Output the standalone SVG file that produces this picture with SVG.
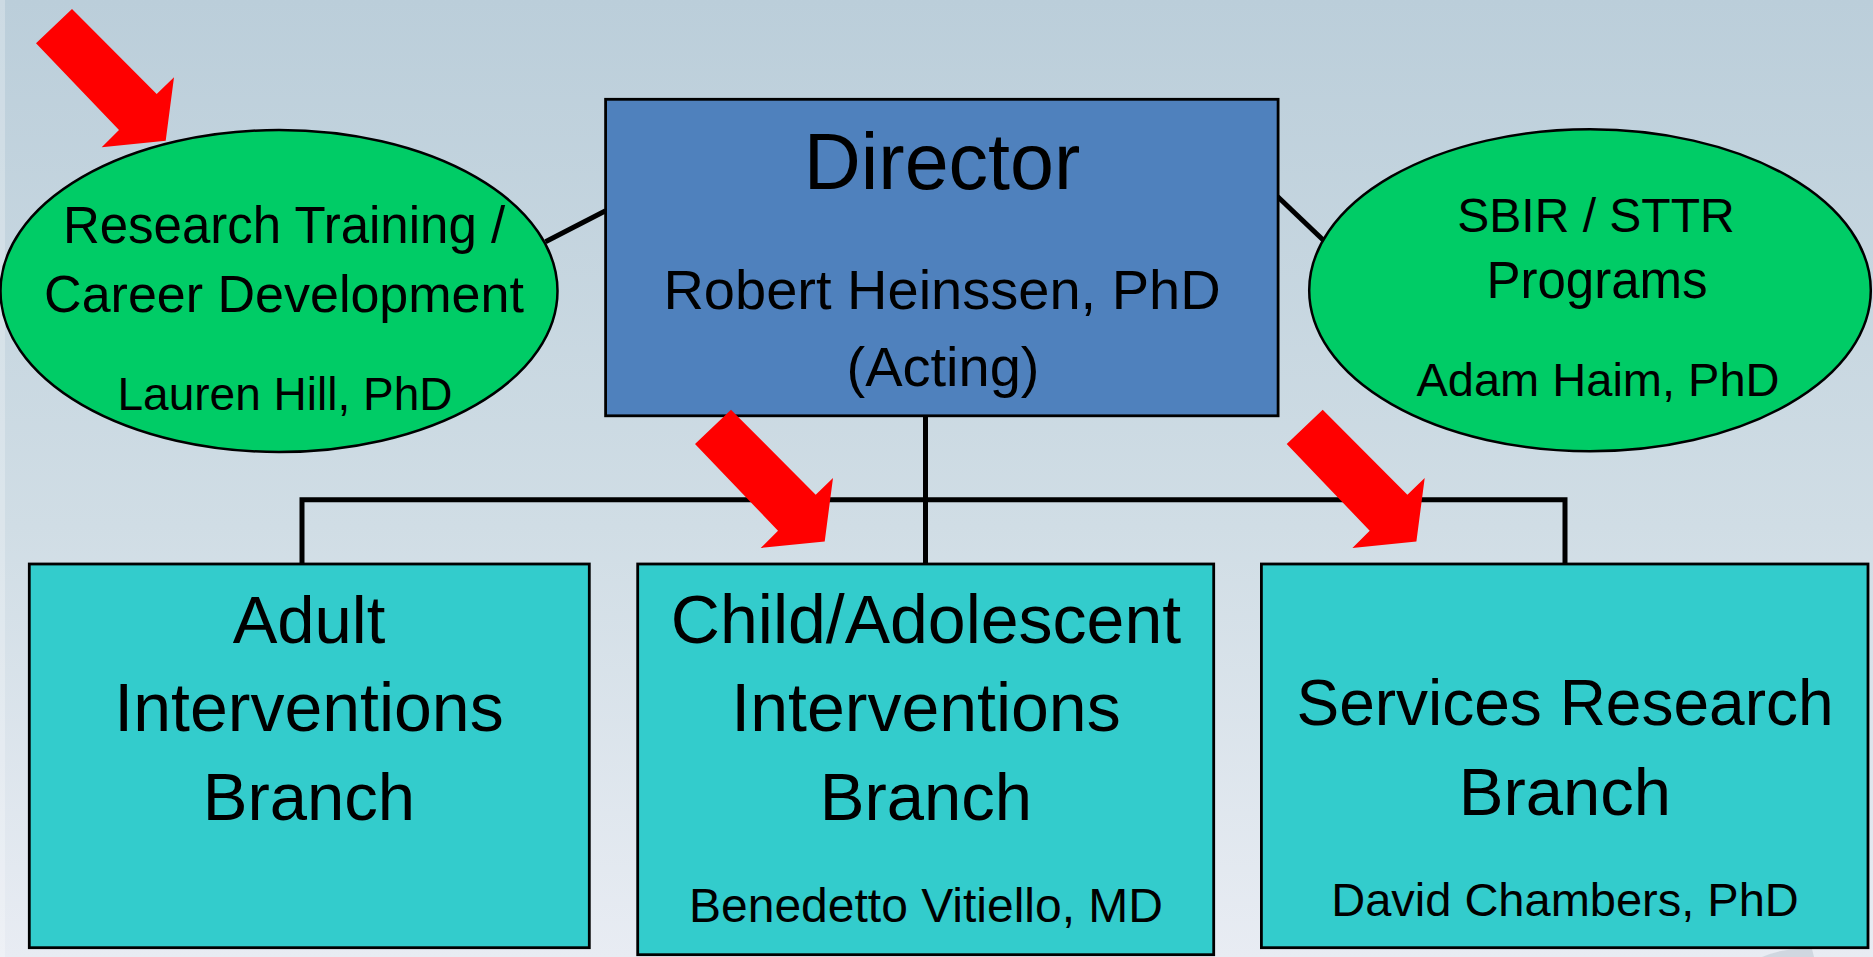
<svg xmlns="http://www.w3.org/2000/svg" xmlns:xlink="http://www.w3.org/1999/xlink" width="1873" height="957" viewBox="0 0 1873 957">
  <defs>
    <linearGradient id="bg" x1="0" y1="0" x2="0" y2="1">
      <stop offset="0" stop-color="#BBCEDA"/>
      <stop offset="0.55" stop-color="#D0DDE5"/>
      <stop offset="1" stop-color="#E8ECF3"/>
    </linearGradient>
    <path id="redArrow" d="M0,0 L36,-34.3 L120.7,50.7 L138,34 L129.7,97.4 L65.7,104 L83,86.7 Z"/>
  </defs>
  <style>
    .txt { font-family: "Liberation Sans", Arial, sans-serif; fill: #000; text-anchor: middle; }
    .box { stroke: #000; stroke-width: 2.8; }
    .director { fill: #4F81BD; }
    .branch { fill: #33CCCC; }
    .oval { fill: #00CC66; stroke: #000; stroke-width: 2.5; }
    .conn { stroke: #000; stroke-width: 5; fill: none; stroke-linecap: butt; }
    .arrow { fill: #FF0000; }
  </style>

  <rect x="0" y="0" width="1873" height="957" fill="url(#bg)"/>
  <rect x="0" y="0" width="5" height="957" fill="#FFFFFF" opacity="0.25"/>
  <path d="M1762,957 Q1785,947 1812,949 L1814,957 Z" fill="#C9D2DB" opacity="0.8"/>

  <g id="connectors">
    <line class="conn" x1="545.5" y1="241.7" x2="605.6" y2="210.7"/>
    <line class="conn" x1="1277.5" y1="196.5" x2="1325" y2="241.7"/>
    <line class="conn" x1="925.5" y1="416" x2="925.5" y2="564"/>
    <polyline class="conn" points="302,564 302,499.8 1565,499.8 1565,564"/>
  </g>

  <g id="node-research-training">
    <ellipse class="oval" cx="279" cy="291" rx="278.5" ry="161"/>
    <text class="txt" x="284" y="242.5" font-size="51">Research Training /</text>
    <text class="txt" x="284" y="312" font-size="52">Career Development</text>
    <text class="txt" x="285" y="410" font-size="46">Lauren Hill, PhD</text>
  </g>

  <g id="node-director">
    <rect class="box director" x="605.6" y="99.3" width="672.5" height="316.5"/>
    <text class="txt" x="942" y="189" font-size="79">Director</text>
    <text class="txt" x="942" y="309" font-size="56">Robert Heinssen, PhD</text>
    <text class="txt" x="943" y="386" font-size="56">(Acting)</text>
  </g>

  <g id="node-sbir">
    <ellipse class="oval" cx="1590" cy="290.3" rx="280.8" ry="161"/>
    <text class="txt" x="1596" y="232" font-size="48">SBIR / STTR</text>
    <text class="txt" x="1597" y="298" font-size="51">Programs</text>
    <text class="txt" x="1598" y="396" font-size="47">Adam Haim, PhD</text>
  </g>

  <g id="node-adult">
    <rect class="box branch" x="29.3" y="564" width="560" height="383.7"/>
    <text class="txt" x="309" y="643" font-size="67">Adult</text>
    <text class="txt" x="309" y="731" font-size="68">Interventions</text>
    <text class="txt" x="309" y="820" font-size="67">Branch</text>
  </g>

  <g id="node-child">
    <rect class="box branch" x="637.7" y="564" width="576" height="390.7"/>
    <text class="txt" x="926" y="643" font-size="68">Child/Adolescent</text>
    <text class="txt" x="926" y="731" font-size="68">Interventions</text>
    <text class="txt" x="926" y="820" font-size="67">Branch</text>
    <text class="txt" x="926" y="922" font-size="48">Benedetto Vitiello, MD</text>
  </g>

  <g id="node-services">
    <rect class="box branch" x="1261.4" y="564" width="606.6" height="383.7"/>
    <text class="txt" x="1565" y="725" font-size="64">Services Research</text>
    <text class="txt" x="1565" y="814.5" font-size="67">Branch</text>
    <text class="txt" x="1565" y="916" font-size="47">David Chambers, PhD</text>
  </g>

  <g id="highlight-arrows">
    <use xlink:href="#redArrow" href="#redArrow" class="arrow" transform="translate(36,43.3)"/>
    <use xlink:href="#redArrow" href="#redArrow" class="arrow" transform="translate(695,444)"/>
    <use xlink:href="#redArrow" href="#redArrow" class="arrow" transform="translate(1286.7,444)"/>
  </g>
</svg>
